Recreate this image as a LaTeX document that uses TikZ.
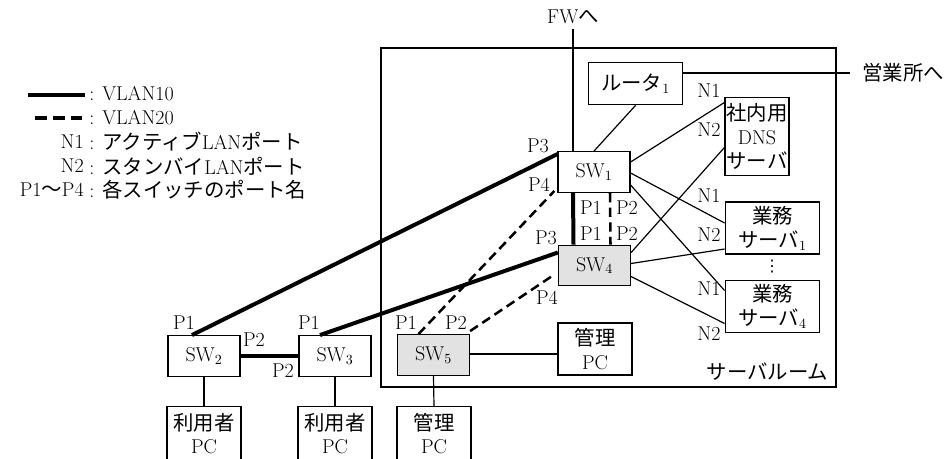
\documentclass[tikz,border=0pt]{standalone}
\usepackage{fontspec}
\usepackage{tikz}
\usetikzlibrary{calc}
\newfontfamily\jpfont[Scale=1.02]{Noto Sans CJK JP}
\newfontfamily\symfont{DejaVu Sans}
\newcommand{\jp}[1]{{\jpfont #1}}
\definecolor{swgray}{RGB}{226,226,226}
\tikzset{
  box/.style={draw, line width=0.9pt, inner sep=0pt, align=center},
  sw/.style={box, minimum width=54pt, minimum height=30.5pt},
  swg/.style={sw, fill=swgray},
  pcbox/.style={box, minimum width=55.5pt, minimum height=39pt},
  srv/.style={box, minimum width=71pt, minimum height=39pt},
  port/.style={inner sep=0pt},
  link/.style={line width=0.9pt},
  vlanA/.style={line width=3pt},
  vlanB/.style={line width=1.9pt, dash pattern=on 7pt off 4pt}
}

\begin{document}
\begin{tikzpicture}[x=0.75pt, y=-0.75pt, font=\fontsize{15}{18}\selectfont]
\useasboundingbox (0,0) rectangle (946,458);
\clip (0,0) rectangle (946,458);
% legend
\coordinate (lgAa) at (28,95); \coordinate (lgAb) at (85,95);
\coordinate (lgBa) at (35,118); \coordinate (lgBb) at (82,118);
\draw[vlanA, line width=3.6pt] (lgAa) -- (lgAb);
\draw[vlanB, line width=2.4pt, dash pattern=on 9pt off 4.5pt] (lgBa) -- (lgBb);
\node[port, anchor=west] (lgAt) at (89,94) {: VLAN10};
\node[port, anchor=west] (lgBt) at (89,118) {: VLAN20};
\node[port, anchor=east] (lgN1) at (84,142) {N1};
\node[port, anchor=west] (lgN1t) at (89,142) {: \jp{アクティブ}LAN\jp{ポート}};
\node[port, anchor=east] (lgN2) at (84,166) {N2};
\node[port, anchor=west] (lgN2t) at (89,166) {: \jp{スタンバイ}LAN\jp{ポート}};
\node[port, anchor=east] (lgP) at (84,190) {P1\jp{〜}P4};
\node[port, anchor=west] (lgPt) at (89,190) {: \jp{各スイッチのポート名}};

% server room
\node[draw, line width=0.9pt, minimum width=341.25pt, minimum height=254.25pt] (room) at (608.5,217.5) {};
\node[port, anchor=south east] (roomlbl) at ($(room.south east)+(-8,-7)$) {\jp{サーバルーム}};

% nodes
\node[box, minimum width=71pt, minimum height=32pt] (rt) at (635.5,83.5) {\jp{ルータ}\textsubscript{1}};
\node[sw] (sw1) at (594,172) {SW\textsubscript{1}};
\node[swg] (sw4) at (594.5,265.5) {SW\textsubscript{4}};
\node[swg] (sw5) at (433.5,355) {SW\textsubscript{5}};
\node[sw] (sw2) at (204,356) {SW\textsubscript{2}};
\node[sw] (sw3) at (335,356) {SW\textsubscript{3}};
\node[pcbox] (pcm) at (595,349) {\jp{管理}\\PC};
\node[box, minimum width=48pt, minimum height=59pt] (dns) at (757,136.5) {\jp{社内用}\\DNS\\\jp{サーバ}};
\node[srv] (gs1) at (772.5,228) {\jp{業務}\\\jp{サーバ}\textsubscript{1}};
\node[srv] (gs4) at (772.5,306.5) {\jp{業務}\\\jp{サーバ}\textsubscript{4}};
\node[port] (vd) at (772,267) {\symfont\fontsize{12}{12}\selectfont ⋮};
\node[pcbox, minimum height=40pt, font=\fontsize{15}{17}\selectfont] (pu1) at (204,433.5) {\jp{利用者}\\PC};
\node[pcbox, minimum height=40pt, font=\fontsize{15}{17}\selectfont] (pu2) at (335,433.5) {\jp{利用者}\\PC};
\node[pcbox, minimum height=40pt, font=\fontsize{15}{17}\selectfont] (pu3) at (434,433.5) {\jp{管理}\\PC};

% outside links
\node[port] (fw) at (573,17) {FW\jp{へ}};
\node[port, anchor=west, inner xsep=9pt] (office) at (850,73) {\jp{営業所へ}};
\draw[link] ($(fw.south)+(0,5)$) -- ($(sw1.north)+(-21,0)$);
\draw[link] (rt.east |- office.west) -- (office.west);
\draw[link] (rt.south) -- (sw1.north);

% server links
\draw[link] ($(sw1.east)+(0,-10)$) -- ($(dns.west)+(0,-34)$);
\draw[link] ($(sw1.east)+(0,1)$) -- ($(gs1.west)+(0,-5)$);
\draw[link] ($(sw1.east)+(0,13)$) -- ($(gs4.west)+(0,-16)$);
\draw[link] ($(sw4.east)+(0,-13)$) -- ($(dns.west)+(0,11)$);
\draw[link] ($(sw4.east)+(0,-2)$) -- ($(gs1.west)+(0,21)$);
\draw[link] ($(sw4.east)+(0,11)$) -- ($(gs4.west)+(0,17)$);

% VLAN links
\draw[vlanA] ($(sw1.south)+(-21,0)$) -- ($(sw4.north)+(-21,0)$);
\draw[vlanB] ($(sw1.south)+(16,0)$) -- ($(sw4.north)+(16,0)$);
\draw[vlanA] ($(sw2.north)+(-12,0)$) -- ($(sw1.north west)+(0,3)$);
\draw[vlanA] ($(sw3.north)+(-15,0)$) -- ($(sw4.west)+(0,-13)$);
\draw[vlanA] (sw2.east) -- (sw3.west);
\draw[vlanB] ($(sw5.north)+(-15,0)$) -- ($(sw1.south west)+(-3,-2)$);
\draw[vlanB] ($(sw5.north east)+(0,-3)$) -- ($(sw4.west)+(-5,10)$);
\draw[link] (sw5.east |- pcm.west) ++(0,5) coordinate (m5) -- (m5 -| pcm.west);

% PC links
\draw[link] (sw2.south) -- (pu1.north);
\draw[link] (sw3.south) -- (pu2.north);
\draw[link] (sw5.south) -- (pu3.north);

% port names
\node[port] (s1p3) at (538,146) {P3};
\node[port] (s1p4) at (539,185) {P4};
\node[port] (s1p1) at (591,208) {P1};
\node[port] (s1p2) at (627,208) {P2};
\node[port] (s4p1) at (591,234) {P1};
\node[port] (s4p2) at (627,234) {P2};
\node[port] (s4p3) at (546,238) {P3};
\node[port] (s4p4) at (547,298) {P4};
\node[port] (s5p1) at (406,323) {P1};
\node[port] (s5p2) at (456,323) {P2};
\node[port] (s2p1) at (184,323) {P1};
\node[port] (s2p2) at (254,340) {P2};
\node[port] (s3p1) at (309,323) {P1};
\node[port] (s3p2) at (283,371) {P2};
\node[port] (dn1) at (709,91) {N1};
\node[port] (dn2) at (709,130) {N2};
\node[port] (g1n1) at (709,196) {N1};
\node[port] (g1n2) at (709,235) {N2};
\node[port] (g4n1) at (709,289) {N1};
\node[port] (g4n2) at (709,334) {N2};
\end{tikzpicture}
\end{document}
